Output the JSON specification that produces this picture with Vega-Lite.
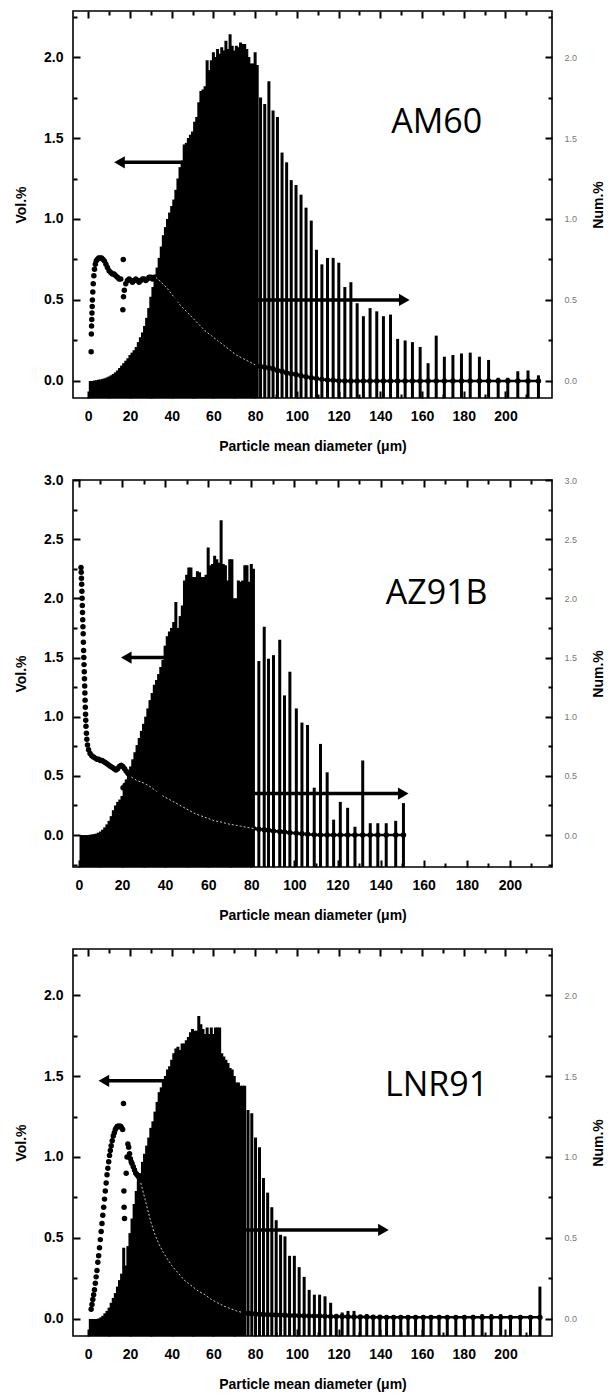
{
"$schema": "https://vega.github.io/schema/vega-lite/v6.json",
"autosize": {"type": "pad"},
"padding": {"left": 13, "top": 9, "right": 0, "bottom": 0},
"background": "white",
"config": {
  "view": {"stroke": "black", "strokeWidth": 1.6},
  "axis": {"domain": false, "grid": false, "ticks": true, "tickColor": "black", "tickOpacity": 1, "tickWidth": 2, "labelFont": "Liberation Sans", "labelFontWeight": "bold", "labelFontSize": 14, "labelColor": "black", "titleFont": "Liberation Sans", "titleFontWeight": "bold", "titleFontSize": 14, "titleColor": "black", "labelFlush": false, "labelOverlap": false}
},
"datasets": {
"vol": [
{"s":"AM60","d":1,"v":0},{"s":"AM60","d":2,"v":0},{"s":"AM60","d":3,"v":0.003},{"s":"AM60","d":4,"v":0.005},{"s":"AM60","d":5,"v":0.008},{"s":"AM60","d":6,"v":0.01},{"s":"AM60","d":7,"v":0.013},{"s":"AM60","d":8,"v":0.017},{"s":"AM60","d":9,"v":0.022},{"s":"AM60","d":10,"v":0.028},
{"s":"AM60","d":11,"v":0.035},{"s":"AM60","d":12,"v":0.043},{"s":"AM60","d":13,"v":0.053},{"s":"AM60","d":14,"v":0.065},{"s":"AM60","d":15,"v":0.08},{"s":"AM60","d":16,"v":0.095},{"s":"AM60","d":17,"v":0.11},{"s":"AM60","d":18,"v":0.125},{"s":"AM60","d":19,"v":0.14},{"s":"AM60","d":20,"v":0.16},
{"s":"AM60","d":21,"v":0.175},{"s":"AM60","d":22,"v":0.19},{"s":"AM60","d":23,"v":0.21},{"s":"AM60","d":24,"v":0.24},{"s":"AM60","d":25,"v":0.27},{"s":"AM60","d":26,"v":0.3},{"s":"AM60","d":27,"v":0.34},{"s":"AM60","d":28,"v":0.39},{"s":"AM60","d":29,"v":0.45},{"s":"AM60","d":30,"v":0.52},
{"s":"AM60","d":31,"v":0.58},{"s":"AM60","d":32,"v":0.64},{"s":"AM60","d":33,"v":0.7},{"s":"AM60","d":34,"v":0.76},{"s":"AM60","d":35,"v":0.83},{"s":"AM60","d":36,"v":0.9},{"s":"AM60","d":37,"v":0.95},{"s":"AM60","d":38,"v":1.0},{"s":"AM60","d":39,"v":1.04},{"s":"AM60","d":40,"v":1.08},
{"s":"AM60","d":41,"v":1.12},{"s":"AM60","d":42,"v":1.18},{"s":"AM60","d":43,"v":1.25},{"s":"AM60","d":44,"v":1.32},{"s":"AM60","d":45,"v":1.36},{"s":"AM60","d":46,"v":1.46},{"s":"AM60","d":47,"v":1.47},{"s":"AM60","d":48,"v":1.5},{"s":"AM60","d":49,"v":1.52},{"s":"AM60","d":50,"v":1.54},
{"s":"AM60","d":51,"v":1.6},{"s":"AM60","d":52,"v":1.63},{"s":"AM60","d":53,"v":1.72},{"s":"AM60","d":54,"v":1.79},{"s":"AM60","d":55,"v":1.8},{"s":"AM60","d":56,"v":1.82},{"s":"AM60","d":57,"v":1.98},{"s":"AM60","d":58,"v":1.92},{"s":"AM60","d":59,"v":1.98},{"s":"AM60","d":60,"v":2.03},
{"s":"AM60","d":61,"v":2.0},{"s":"AM60","d":62,"v":2.05},{"s":"AM60","d":63,"v":2.02},{"s":"AM60","d":64,"v":2.06},{"s":"AM60","d":65,"v":2.04},{"s":"AM60","d":66,"v":2.1},{"s":"AM60","d":67,"v":2.05},{"s":"AM60","d":68,"v":2.14},{"s":"AM60","d":69,"v":2.07},{"s":"AM60","d":70,"v":2.04},
{"s":"AM60","d":71,"v":2.07},{"s":"AM60","d":72,"v":2.06},{"s":"AM60","d":73,"v":2.09},{"s":"AM60","d":74,"v":2.08},{"s":"AM60","d":75,"v":2.08},{"s":"AM60","d":76,"v":2.05},{"s":"AM60","d":77,"v":2.0},{"s":"AM60","d":78,"v":1.96},{"s":"AM60","d":79,"v":1.96},{"s":"AM60","d":80,"v":2.03},{"s":"AM60","d":81,"v":1.95},
{"s":"AM60","d":82.6,"v":1.75},{"s":"AM60","d":84.6,"v":1.71},{"s":"AM60","d":86.6,"v":1.85},{"s":"AM60","d":88.6,"v":1.67},{"s":"AM60","d":90.7,"v":1.63},{"s":"AM60","d":92.9,"v":1.41},{"s":"AM60","d":95.1,"v":1.35},{"s":"AM60","d":97.3,"v":1.24},{"s":"AM60","d":99.6,"v":1.21},{"s":"AM60","d":102,"v":1.15},
{"s":"AM60","d":104.4,"v":1.07},{"s":"AM60","d":106.9,"v":0.99},{"s":"AM60","d":109.4,"v":0.81},{"s":"AM60","d":112,"v":0.72},{"s":"AM60","d":114.7,"v":0.76},{"s":"AM60","d":117.4,"v":0.76},{"s":"AM60","d":120.1,"v":0.73},{"s":"AM60","d":123,"v":0.58},{"s":"AM60","d":125.9,"v":0.61},{"s":"AM60","d":128.9,"v":0.48},
{"s":"AM60","d":131.9,"v":0.4},{"s":"AM60","d":135.1,"v":0.45},{"s":"AM60","d":138.3,"v":0.43},{"s":"AM60","d":141.5,"v":0.4},{"s":"AM60","d":144.9,"v":0.41},{"s":"AM60","d":148.3,"v":0.26},{"s":"AM60","d":151.9,"v":0.25},{"s":"AM60","d":155.4,"v":0.24},{"s":"AM60","d":159.1,"v":0.21},{"s":"AM60","d":162.9,"v":0.11},
{"s":"AM60","d":166.8,"v":0.28},{"s":"AM60","d":170.7,"v":0.15},{"s":"AM60","d":174.8,"v":0.16},{"s":"AM60","d":178.9,"v":0.17},{"s":"AM60","d":183.1,"v":0.175},{"s":"AM60","d":187.5,"v":0.15},{"s":"AM60","d":191.9,"v":0.13},{"s":"AM60","d":196.5,"v":0.02},{"s":"AM60","d":201.1,"v":0.02},{"s":"AM60","d":205.9,"v":0.06},
{"s":"AM60","d":210.8,"v":0.065},{"s":"AM60","d":215.8,"v":0.035},

{"s":"AZ91B","d":1,"v":0},{"s":"AZ91B","d":2,"v":0},{"s":"AZ91B","d":3,"v":0},{"s":"AZ91B","d":4,"v":0},{"s":"AZ91B","d":5,"v":0.002},{"s":"AZ91B","d":6,"v":0.005},{"s":"AZ91B","d":7,"v":0.008},{"s":"AZ91B","d":8,"v":0.012},{"s":"AZ91B","d":9,"v":0.02},{"s":"AZ91B","d":10,"v":0.03},
{"s":"AZ91B","d":11,"v":0.045},{"s":"AZ91B","d":12,"v":0.065},{"s":"AZ91B","d":13,"v":0.09},{"s":"AZ91B","d":14,"v":0.12},{"s":"AZ91B","d":15,"v":0.16},{"s":"AZ91B","d":16,"v":0.21},{"s":"AZ91B","d":17,"v":0.25},{"s":"AZ91B","d":18,"v":0.28},{"s":"AZ91B","d":19,"v":0.3},{"s":"AZ91B","d":20,"v":0.33},
{"s":"AZ91B","d":21,"v":0.4},{"s":"AZ91B","d":22,"v":0.47},{"s":"AZ91B","d":23,"v":0.53},{"s":"AZ91B","d":24,"v":0.58},{"s":"AZ91B","d":25,"v":0.64},{"s":"AZ91B","d":26,"v":0.7},{"s":"AZ91B","d":27,"v":0.76},{"s":"AZ91B","d":28,"v":0.82},{"s":"AZ91B","d":29,"v":0.88},{"s":"AZ91B","d":30,"v":0.94},
{"s":"AZ91B","d":31,"v":1.0},{"s":"AZ91B","d":32,"v":1.07},{"s":"AZ91B","d":33,"v":1.14},{"s":"AZ91B","d":34,"v":1.2},{"s":"AZ91B","d":35,"v":1.27},{"s":"AZ91B","d":36,"v":1.31},{"s":"AZ91B","d":37,"v":1.36},{"s":"AZ91B","d":38,"v":1.42},{"s":"AZ91B","d":39,"v":1.48},{"s":"AZ91B","d":40,"v":1.6},
{"s":"AZ91B","d":41,"v":1.68},{"s":"AZ91B","d":42,"v":1.72},{"s":"AZ91B","d":43,"v":1.75},{"s":"AZ91B","d":44,"v":1.8},{"s":"AZ91B","d":45,"v":1.97},{"s":"AZ91B","d":46,"v":1.75},{"s":"AZ91B","d":47,"v":1.85},{"s":"AZ91B","d":48,"v":1.94},{"s":"AZ91B","d":49,"v":2.15},{"s":"AZ91B","d":50,"v":2.2},
{"s":"AZ91B","d":51,"v":2.26},{"s":"AZ91B","d":52,"v":2.26},{"s":"AZ91B","d":53,"v":2.18},{"s":"AZ91B","d":54,"v":2.18},{"s":"AZ91B","d":55,"v":2.23},{"s":"AZ91B","d":56,"v":2.22},{"s":"AZ91B","d":57,"v":2.18},{"s":"AZ91B","d":58,"v":2.18},{"s":"AZ91B","d":59,"v":2.2},{"s":"AZ91B","d":60,"v":2.43},
{"s":"AZ91B","d":61,"v":2.28},{"s":"AZ91B","d":62,"v":2.29},{"s":"AZ91B","d":63,"v":2.36},{"s":"AZ91B","d":64,"v":2.33},{"s":"AZ91B","d":65,"v":2.3},{"s":"AZ91B","d":66,"v":2.66},{"s":"AZ91B","d":67,"v":2.29},{"s":"AZ91B","d":68,"v":2.28},{"s":"AZ91B","d":69,"v":2.15},{"s":"AZ91B","d":70,"v":2.33},
{"s":"AZ91B","d":71,"v":2.33},{"s":"AZ91B","d":72,"v":2.0},{"s":"AZ91B","d":73,"v":2.0},{"s":"AZ91B","d":74,"v":2.15},{"s":"AZ91B","d":75,"v":2.14},{"s":"AZ91B","d":76,"v":2.15},{"s":"AZ91B","d":77,"v":2.28},{"s":"AZ91B","d":78,"v":2.28},{"s":"AZ91B","d":79,"v":2.14},{"s":"AZ91B","d":80,"v":2.29},{"s":"AZ91B","d":81,"v":2.25},
{"s":"AZ91B","d":83.5,"v":1.47},{"s":"AZ91B","d":86,"v":1.76},{"s":"AZ91B","d":88,"v":1.49},{"s":"AZ91B","d":90.3,"v":1.52},{"s":"AZ91B","d":93.2,"v":1.65},{"s":"AZ91B","d":95.4,"v":1.18},{"s":"AZ91B","d":97.9,"v":1.38},{"s":"AZ91B","d":100.9,"v":1.07},{"s":"AZ91B","d":103.5,"v":0.95},{"s":"AZ91B","d":106.1,"v":0.93},
{"s":"AZ91B","d":109.2,"v":0.4},{"s":"AZ91B","d":112.1,"v":0.77},{"s":"AZ91B","d":115.2,"v":0.53},{"s":"AZ91B","d":118.2,"v":0.13},{"s":"AZ91B","d":121.3,"v":0.28},{"s":"AZ91B","d":124.7,"v":0.23},{"s":"AZ91B","d":128.1,"v":0.07},{"s":"AZ91B","d":131.7,"v":0.63},{"s":"AZ91B","d":135.2,"v":0.1},{"s":"AZ91B","d":138.7,"v":0.1},
{"s":"AZ91B","d":142.6,"v":0.1},{"s":"AZ91B","d":147,"v":0.12},{"s":"AZ91B","d":150.6,"v":0.27},

{"s":"LNR91","d":1,"v":0},{"s":"LNR91","d":2,"v":0},{"s":"LNR91","d":3,"v":0},{"s":"LNR91","d":4,"v":0},{"s":"LNR91","d":5,"v":0.003},{"s":"LNR91","d":6,"v":0.01},{"s":"LNR91","d":7,"v":0.02},{"s":"LNR91","d":8,"v":0.035},{"s":"LNR91","d":9,"v":0.05},{"s":"LNR91","d":10,"v":0.07},
{"s":"LNR91","d":11,"v":0.1},{"s":"LNR91","d":12,"v":0.13},{"s":"LNR91","d":13,"v":0.16},{"s":"LNR91","d":14,"v":0.2},{"s":"LNR91","d":15,"v":0.24},{"s":"LNR91","d":16,"v":0.28},{"s":"LNR91","d":17,"v":0.44},{"s":"LNR91","d":18,"v":0.33},{"s":"LNR91","d":19,"v":0.45},{"s":"LNR91","d":20,"v":0.53},
{"s":"LNR91","d":21,"v":0.62},{"s":"LNR91","d":22,"v":0.71},{"s":"LNR91","d":23,"v":0.79},{"s":"LNR91","d":24,"v":0.85},{"s":"LNR91","d":25,"v":0.9},{"s":"LNR91","d":26,"v":0.97},{"s":"LNR91","d":27,"v":1.02},{"s":"LNR91","d":28,"v":1.07},{"s":"LNR91","d":29,"v":1.12},{"s":"LNR91","d":30,"v":1.18},
{"s":"LNR91","d":31,"v":1.22},{"s":"LNR91","d":32,"v":1.28},{"s":"LNR91","d":33,"v":1.34},{"s":"LNR91","d":34,"v":1.4},{"s":"LNR91","d":35,"v":1.43},{"s":"LNR91","d":36,"v":1.47},{"s":"LNR91","d":37,"v":1.5},{"s":"LNR91","d":38,"v":1.54},{"s":"LNR91","d":39,"v":1.56},{"s":"LNR91","d":40,"v":1.6},
{"s":"LNR91","d":41,"v":1.64},{"s":"LNR91","d":42,"v":1.67},{"s":"LNR91","d":43,"v":1.68},{"s":"LNR91","d":44,"v":1.66},{"s":"LNR91","d":45,"v":1.7},{"s":"LNR91","d":46,"v":1.7},{"s":"LNR91","d":47,"v":1.72},{"s":"LNR91","d":48,"v":1.74},{"s":"LNR91","d":49,"v":1.77},{"s":"LNR91","d":50,"v":1.79},
{"s":"LNR91","d":51,"v":1.78},{"s":"LNR91","d":52,"v":1.78},{"s":"LNR91","d":53,"v":1.87},{"s":"LNR91","d":54,"v":1.82},{"s":"LNR91","d":55,"v":1.79},{"s":"LNR91","d":56,"v":1.76},{"s":"LNR91","d":57,"v":1.8},{"s":"LNR91","d":58,"v":1.76},{"s":"LNR91","d":59,"v":1.8},{"s":"LNR91","d":60,"v":1.76},
{"s":"LNR91","d":61,"v":1.8},{"s":"LNR91","d":62,"v":1.8},{"s":"LNR91","d":63,"v":1.8},{"s":"LNR91","d":64,"v":1.64},{"s":"LNR91","d":65,"v":1.62},{"s":"LNR91","d":66,"v":1.6},{"s":"LNR91","d":67,"v":1.58},{"s":"LNR91","d":68,"v":1.55},{"s":"LNR91","d":69,"v":1.54},{"s":"LNR91","d":70,"v":1.5},
{"s":"LNR91","d":71,"v":1.46},{"s":"LNR91","d":72,"v":1.46},{"s":"LNR91","d":73,"v":1.44},{"s":"LNR91","d":74,"v":1.44},{"s":"LNR91","d":75,"v":1.44},
{"s":"LNR91","d":76.6,"v":1.29},{"s":"LNR91","d":78.4,"v":1.27},{"s":"LNR91","d":80.2,"v":1.12},{"s":"LNR91","d":82.1,"v":1.06},{"s":"LNR91","d":84,"v":0.87},{"s":"LNR91","d":86,"v":0.78},{"s":"LNR91","d":88,"v":0.69},{"s":"LNR91","d":90.1,"v":0.61},{"s":"LNR91","d":92.2,"v":0.52},{"s":"LNR91","d":94.3,"v":0.51},
{"s":"LNR91","d":96.5,"v":0.39},{"s":"LNR91","d":98.8,"v":0.39},{"s":"LNR91","d":101.1,"v":0.32},{"s":"LNR91","d":103.5,"v":0.26},{"s":"LNR91","d":105.9,"v":0.18},{"s":"LNR91","d":108.4,"v":0.15},{"s":"LNR91","d":110.9,"v":0.15},{"s":"LNR91","d":113.5,"v":0.14},{"s":"LNR91","d":116.2,"v":0.1},{"s":"LNR91","d":118.9,"v":0.02},
{"s":"LNR91","d":121.7,"v":0.04},{"s":"LNR91","d":124.5,"v":0.05},{"s":"LNR91","d":127.4,"v":0.05},{"s":"LNR91","d":130.4,"v":0.02},{"s":"LNR91","d":133.5,"v":0.03},{"s":"LNR91","d":136.6,"v":0.02},{"s":"LNR91","d":139.8,"v":0.02},{"s":"LNR91","d":143,"v":0.02},{"s":"LNR91","d":146.4,"v":0.02},{"s":"LNR91","d":149.8,"v":0.02},
{"s":"LNR91","d":153.3,"v":0.02},{"s":"LNR91","d":156.9,"v":0.02},{"s":"LNR91","d":160.6,"v":0.02},{"s":"LNR91","d":164.3,"v":0.02},{"s":"LNR91","d":168.2,"v":0.02},{"s":"LNR91","d":172.1,"v":0.02},{"s":"LNR91","d":176.2,"v":0.02},{"s":"LNR91","d":180.3,"v":0.02},{"s":"LNR91","d":184.5,"v":0.025},{"s":"LNR91","d":188.8,"v":0.03},
{"s":"LNR91","d":193.2,"v":0.03},{"s":"LNR91","d":197.7,"v":0.03},{"s":"LNR91","d":202.4,"v":0.02},{"s":"LNR91","d":207.1,"v":0.02},{"s":"LNR91","d":212,"v":0.02},{"s":"LNR91","d":216.5,"v":0.2}
],
"num": [
{"s":"AM60","d":1.4,"n":0.18},{"s":"AM60","d":1.5,"n":0.29},{"s":"AM60","d":1.6,"n":0.34},{"s":"AM60","d":1.7,"n":0.38},{"s":"AM60","d":1.8,"n":0.42},{"s":"AM60","d":1.9,"n":0.46},{"s":"AM60","d":2.0,"n":0.5},{"s":"AM60","d":2.2,"n":0.55},{"s":"AM60","d":2.4,"n":0.6},{"s":"AM60","d":2.7,"n":0.65},
{"s":"AM60","d":3.0,"n":0.69},{"s":"AM60","d":3.4,"n":0.72},{"s":"AM60","d":3.8,"n":0.74},{"s":"AM60","d":4.3,"n":0.75},{"s":"AM60","d":5,"n":0.76},{"s":"AM60","d":5.7,"n":0.76},{"s":"AM60","d":6.4,"n":0.76},{"s":"AM60","d":7.1,"n":0.75},{"s":"AM60","d":7.8,"n":0.74},{"s":"AM60","d":8.5,"n":0.72},
{"s":"AM60","d":9.2,"n":0.7},{"s":"AM60","d":10,"n":0.68},{"s":"AM60","d":10.8,"n":0.67},{"s":"AM60","d":11.6,"n":0.66},{"s":"AM60","d":12.4,"n":0.66},{"s":"AM60","d":13.2,"n":0.65},{"s":"AM60","d":14,"n":0.64},{"s":"AM60","d":14.8,"n":0.63},{"s":"AM60","d":15.6,"n":0.63},{"s":"AM60","d":16.8,"n":0.75},
{"s":"AM60","d":16.6,"n":0.44},{"s":"AM60","d":16.9,"n":0.52},{"s":"AM60","d":17.3,"n":0.56},{"s":"AM60","d":18,"n":0.6},{"s":"AM60","d":18.8,"n":0.62},{"s":"AM60","d":19.6,"n":0.63},{"s":"AM60","d":20.4,"n":0.62},{"s":"AM60","d":21.2,"n":0.61},{"s":"AM60","d":22,"n":0.62},{"s":"AM60","d":22.8,"n":0.63},
{"s":"AM60","d":23.6,"n":0.62},{"s":"AM60","d":24.4,"n":0.61},{"s":"AM60","d":25.2,"n":0.62},{"s":"AM60","d":26,"n":0.63},{"s":"AM60","d":26.8,"n":0.63},{"s":"AM60","d":27.6,"n":0.62},{"s":"AM60","d":28.4,"n":0.63},{"s":"AM60","d":29.2,"n":0.64},{"s":"AM60","d":30,"n":0.64},{"s":"AM60","d":30.8,"n":0.63},
{"s":"AM60","d":31.6,"n":0.64},{"s":"AM60","d":32.4,"n":0.64},{"s":"AM60","d":33.2,"n":0.63},{"s":"AM60","d":35,"n":0.61},{"s":"AM60","d":38,"n":0.57},{"s":"AM60","d":41,"n":0.52},{"s":"AM60","d":44,"n":0.47},{"s":"AM60","d":47,"n":0.43},{"s":"AM60","d":50,"n":0.39},{"s":"AM60","d":53,"n":0.35},
{"s":"AM60","d":56,"n":0.31},{"s":"AM60","d":59,"n":0.28},{"s":"AM60","d":62,"n":0.25},{"s":"AM60","d":65,"n":0.22},{"s":"AM60","d":68,"n":0.19},{"s":"AM60","d":71,"n":0.16},{"s":"AM60","d":74,"n":0.14},{"s":"AM60","d":77,"n":0.12},{"s":"AM60","d":80,"n":0.1},
{"s":"AM60","d":82.6,"n":0.09},{"s":"AM60","d":84.6,"n":0.085},{"s":"AM60","d":86.6,"n":0.08},{"s":"AM60","d":88.6,"n":0.075},{"s":"AM60","d":90.7,"n":0.065},{"s":"AM60","d":92.9,"n":0.06},{"s":"AM60","d":95.1,"n":0.05},{"s":"AM60","d":97.3,"n":0.045},{"s":"AM60","d":99.6,"n":0.04},{"s":"AM60","d":102,"n":0.032},
{"s":"AM60","d":104.4,"n":0.026},{"s":"AM60","d":106.9,"n":0.02},{"s":"AM60","d":109.4,"n":0.015},{"s":"AM60","d":112,"n":0.01},{"s":"AM60","d":114.7,"n":0.006},{"s":"AM60","d":117.4,"n":0.004},{"s":"AM60","d":120.1,"n":0.002},{"s":"AM60","d":123,"n":0},{"s":"AM60","d":125.9,"n":0},{"s":"AM60","d":128.9,"n":0},
{"s":"AM60","d":131.9,"n":0},{"s":"AM60","d":135.1,"n":0},{"s":"AM60","d":138.3,"n":0},{"s":"AM60","d":141.5,"n":0},{"s":"AM60","d":144.9,"n":0},{"s":"AM60","d":148.3,"n":0},{"s":"AM60","d":151.9,"n":0},{"s":"AM60","d":155.4,"n":0},{"s":"AM60","d":159.1,"n":0},{"s":"AM60","d":162.9,"n":0},
{"s":"AM60","d":166.8,"n":0},{"s":"AM60","d":170.7,"n":0},{"s":"AM60","d":174.8,"n":0},{"s":"AM60","d":178.9,"n":0},{"s":"AM60","d":183.1,"n":0},{"s":"AM60","d":187.5,"n":0},{"s":"AM60","d":191.9,"n":0},{"s":"AM60","d":196.5,"n":0},{"s":"AM60","d":201.1,"n":0},{"s":"AM60","d":205.9,"n":0},
{"s":"AM60","d":210.8,"n":0},{"s":"AM60","d":215.8,"n":0},

{"s":"AZ91B","d":1.0,"n":2.26},{"s":"AZ91B","d":1.1,"n":2.22},{"s":"AZ91B","d":1.2,"n":2.17},{"s":"AZ91B","d":1.3,"n":2.12},{"s":"AZ91B","d":1.4,"n":2.06},{"s":"AZ91B","d":1.5,"n":2.0},{"s":"AZ91B","d":1.6,"n":1.94},{"s":"AZ91B","d":1.7,"n":1.88},{"s":"AZ91B","d":1.8,"n":1.82},{"s":"AZ91B","d":1.9,"n":1.76},
{"s":"AZ91B","d":2.0,"n":1.7},{"s":"AZ91B","d":2.1,"n":1.63},{"s":"AZ91B","d":2.2,"n":1.56},{"s":"AZ91B","d":2.3,"n":1.5},{"s":"AZ91B","d":2.4,"n":1.44},{"s":"AZ91B","d":2.5,"n":1.38},{"s":"AZ91B","d":2.6,"n":1.32},{"s":"AZ91B","d":2.7,"n":1.26},{"s":"AZ91B","d":2.8,"n":1.2},{"s":"AZ91B","d":2.9,"n":1.14},
{"s":"AZ91B","d":3.0,"n":1.08},{"s":"AZ91B","d":3.1,"n":1.02},{"s":"AZ91B","d":3.2,"n":0.97},{"s":"AZ91B","d":3.3,"n":0.92},{"s":"AZ91B","d":3.5,"n":0.86},{"s":"AZ91B","d":3.7,"n":0.81},{"s":"AZ91B","d":4.0,"n":0.76},{"s":"AZ91B","d":4.5,"n":0.72},{"s":"AZ91B","d":5.2,"n":0.69},{"s":"AZ91B","d":6,"n":0.67},
{"s":"AZ91B","d":6.8,"n":0.66},{"s":"AZ91B","d":7.6,"n":0.65},{"s":"AZ91B","d":8.4,"n":0.64},{"s":"AZ91B","d":9.2,"n":0.64},{"s":"AZ91B","d":10,"n":0.63},{"s":"AZ91B","d":10.8,"n":0.63},{"s":"AZ91B","d":11.6,"n":0.62},{"s":"AZ91B","d":12.4,"n":0.61},{"s":"AZ91B","d":13.2,"n":0.6},{"s":"AZ91B","d":14,"n":0.59},
{"s":"AZ91B","d":14.8,"n":0.58},{"s":"AZ91B","d":15.6,"n":0.57},{"s":"AZ91B","d":16.4,"n":0.56},{"s":"AZ91B","d":17.2,"n":0.55},{"s":"AZ91B","d":18,"n":0.56},{"s":"AZ91B","d":18.8,"n":0.58},{"s":"AZ91B","d":19.6,"n":0.59},{"s":"AZ91B","d":20.4,"n":0.58},{"s":"AZ91B","d":21.2,"n":0.56},{"s":"AZ91B","d":22,"n":0.54},
{"s":"AZ91B","d":22.8,"n":0.52},{"s":"AZ91B","d":23.6,"n":0.51},{"s":"AZ91B","d":24.4,"n":0.49},{"s":"AZ91B","d":20.5,"n":0.4},{"s":"AZ91B","d":21.5,"n":0.42},{"s":"AZ91B","d":25.2,"n":0.48},{"s":"AZ91B","d":27,"n":0.46},{"s":"AZ91B","d":30,"n":0.44},{"s":"AZ91B","d":33,"n":0.41},{"s":"AZ91B","d":36,"n":0.37},
{"s":"AZ91B","d":39,"n":0.33},{"s":"AZ91B","d":42,"n":0.3},{"s":"AZ91B","d":45,"n":0.27},{"s":"AZ91B","d":48,"n":0.24},{"s":"AZ91B","d":51,"n":0.21},{"s":"AZ91B","d":54,"n":0.18},{"s":"AZ91B","d":57,"n":0.16},{"s":"AZ91B","d":60,"n":0.14},{"s":"AZ91B","d":63,"n":0.12},{"s":"AZ91B","d":66,"n":0.11},
{"s":"AZ91B","d":69,"n":0.095},{"s":"AZ91B","d":72,"n":0.085},{"s":"AZ91B","d":75,"n":0.075},{"s":"AZ91B","d":78,"n":0.065},{"s":"AZ91B","d":81,"n":0.055},
{"s":"AZ91B","d":83.5,"n":0.05},{"s":"AZ91B","d":86,"n":0.045},{"s":"AZ91B","d":88,"n":0.04},{"s":"AZ91B","d":90.3,"n":0.035},{"s":"AZ91B","d":93.2,"n":0.03},{"s":"AZ91B","d":95.4,"n":0.025},{"s":"AZ91B","d":97.9,"n":0.02},{"s":"AZ91B","d":100.9,"n":0.015},{"s":"AZ91B","d":103.5,"n":0.01},{"s":"AZ91B","d":106.1,"n":0.006},
{"s":"AZ91B","d":109.2,"n":0.003},{"s":"AZ91B","d":112.1,"n":0},{"s":"AZ91B","d":115.2,"n":0},{"s":"AZ91B","d":118.2,"n":0},{"s":"AZ91B","d":121.3,"n":0},{"s":"AZ91B","d":124.7,"n":0},{"s":"AZ91B","d":128.1,"n":0},{"s":"AZ91B","d":131.7,"n":0},{"s":"AZ91B","d":135.2,"n":0},{"s":"AZ91B","d":138.7,"n":0},
{"s":"AZ91B","d":142.6,"n":0},{"s":"AZ91B","d":147,"n":0},{"s":"AZ91B","d":150.6,"n":0},

{"s":"LNR91","d":1.4,"n":0.06},{"s":"LNR91","d":1.8,"n":0.09},{"s":"LNR91","d":2.2,"n":0.12},{"s":"LNR91","d":2.6,"n":0.15},{"s":"LNR91","d":3.0,"n":0.18},{"s":"LNR91","d":3.4,"n":0.22},{"s":"LNR91","d":3.8,"n":0.26},{"s":"LNR91","d":4.2,"n":0.3},{"s":"LNR91","d":4.6,"n":0.35},{"s":"LNR91","d":5.0,"n":0.39},
{"s":"LNR91","d":5.4,"n":0.44},{"s":"LNR91","d":5.8,"n":0.49},{"s":"LNR91","d":6.2,"n":0.54},{"s":"LNR91","d":6.6,"n":0.59},{"s":"LNR91","d":7.0,"n":0.64},{"s":"LNR91","d":7.4,"n":0.69},{"s":"LNR91","d":7.8,"n":0.74},{"s":"LNR91","d":8.2,"n":0.79},{"s":"LNR91","d":8.6,"n":0.84},{"s":"LNR91","d":9.0,"n":0.89},
{"s":"LNR91","d":9.4,"n":0.93},{"s":"LNR91","d":9.8,"n":0.97},{"s":"LNR91","d":10.2,"n":1.01},{"s":"LNR91","d":10.6,"n":1.04},{"s":"LNR91","d":11.0,"n":1.07},{"s":"LNR91","d":11.5,"n":1.1},{"s":"LNR91","d":12.0,"n":1.13},{"s":"LNR91","d":12.5,"n":1.15},{"s":"LNR91","d":13.0,"n":1.17},{"s":"LNR91","d":13.5,"n":1.18},
{"s":"LNR91","d":14.0,"n":1.19},{"s":"LNR91","d":14.5,"n":1.19},{"s":"LNR91","d":15.0,"n":1.19},{"s":"LNR91","d":15.5,"n":1.19},{"s":"LNR91","d":16.0,"n":1.18},{"s":"LNR91","d":16.5,"n":1.17},{"s":"LNR91","d":16.9,"n":1.33},{"s":"LNR91","d":17.1,"n":0.79},{"s":"LNR91","d":17.2,"n":0.69},{"s":"LNR91","d":17.4,"n":0.62},
{"s":"LNR91","d":18.2,"n":0.9},{"s":"LNR91","d":18.6,"n":1.0},{"s":"LNR91","d":19.0,"n":1.08},{"s":"LNR91","d":19.4,"n":1.06},{"s":"LNR91","d":19.8,"n":1.02},{"s":"LNR91","d":20.2,"n":0.99},{"s":"LNR91","d":20.6,"n":0.97},{"s":"LNR91","d":21.0,"n":0.96},{"s":"LNR91","d":21.6,"n":0.94},{"s":"LNR91","d":22.2,"n":0.92},
{"s":"LNR91","d":22.8,"n":0.9},{"s":"LNR91","d":23.4,"n":0.89},{"s":"LNR91","d":24.0,"n":0.88},{"s":"LNR91","d":24.6,"n":0.86},{"s":"LNR91","d":25.2,"n":0.84},{"s":"LNR91","d":26,"n":0.8},{"s":"LNR91","d":28,"n":0.7},{"s":"LNR91","d":30,"n":0.6},{"s":"LNR91","d":32,"n":0.52},{"s":"LNR91","d":34,"n":0.46},
{"s":"LNR91","d":36,"n":0.41},{"s":"LNR91","d":38,"n":0.37},{"s":"LNR91","d":40,"n":0.33},{"s":"LNR91","d":42,"n":0.3},{"s":"LNR91","d":44,"n":0.27},{"s":"LNR91","d":46,"n":0.24},{"s":"LNR91","d":48,"n":0.22},{"s":"LNR91","d":50,"n":0.2},{"s":"LNR91","d":53,"n":0.17},{"s":"LNR91","d":56,"n":0.15},
{"s":"LNR91","d":59,"n":0.12},{"s":"LNR91","d":62,"n":0.1},{"s":"LNR91","d":65,"n":0.08},{"s":"LNR91","d":68,"n":0.065},{"s":"LNR91","d":71,"n":0.05},{"s":"LNR91","d":74,"n":0.04},
{"s":"LNR91","d":76.6,"n":0.035},{"s":"LNR91","d":78.4,"n":0.033},{"s":"LNR91","d":80.2,"n":0.031},{"s":"LNR91","d":82.1,"n":0.03},{"s":"LNR91","d":84,"n":0.028},{"s":"LNR91","d":86,"n":0.027},{"s":"LNR91","d":88,"n":0.026},{"s":"LNR91","d":90.1,"n":0.025},{"s":"LNR91","d":92.2,"n":0.024},{"s":"LNR91","d":94.3,"n":0.023},
{"s":"LNR91","d":96.5,"n":0.022},{"s":"LNR91","d":98.8,"n":0.021},{"s":"LNR91","d":101.1,"n":0.02},{"s":"LNR91","d":103.5,"n":0.02},{"s":"LNR91","d":105.9,"n":0.019},{"s":"LNR91","d":108.4,"n":0.018},{"s":"LNR91","d":110.9,"n":0.018},{"s":"LNR91","d":113.5,"n":0.017},{"s":"LNR91","d":116.2,"n":0.016},{"s":"LNR91","d":118.9,"n":0.015},
{"s":"LNR91","d":121.7,"n":0.015},{"s":"LNR91","d":124.5,"n":0.014},{"s":"LNR91","d":127.4,"n":0.013},{"s":"LNR91","d":130.4,"n":0.012},{"s":"LNR91","d":133.5,"n":0.012},{"s":"LNR91","d":136.6,"n":0.011},{"s":"LNR91","d":139.8,"n":0.011},{"s":"LNR91","d":143,"n":0.01},{"s":"LNR91","d":146.4,"n":0.01},{"s":"LNR91","d":149.8,"n":0.01},
{"s":"LNR91","d":153.3,"n":0.01},{"s":"LNR91","d":156.9,"n":0.01},{"s":"LNR91","d":160.6,"n":0.01},{"s":"LNR91","d":164.3,"n":0.01},{"s":"LNR91","d":168.2,"n":0.01},{"s":"LNR91","d":172.1,"n":0.01},{"s":"LNR91","d":176.2,"n":0.01},{"s":"LNR91","d":180.3,"n":0.01},{"s":"LNR91","d":184.5,"n":0.01},{"s":"LNR91","d":188.8,"n":0.01},
{"s":"LNR91","d":193.2,"n":0.01},{"s":"LNR91","d":197.7,"n":0.01},{"s":"LNR91","d":202.4,"n":0.01},{"s":"LNR91","d":207.1,"n":0.01},{"s":"LNR91","d":212,"n":0.01},{"s":"LNR91","d":216.5,"n":0.01}
],
"arrows": [
{"s":"AM60","x1":15,"x2":46,"y":1.35,"dir":"left"},
{"s":"AM60","x1":151.5,"x2":34,"y":0.5,"dir":"right"},
{"s":"AZ91B","x1":22,"x2":39.5,"y":1.5,"dir":"left"},
{"s":"AZ91B","x1":150.5,"x2":28,"y":0.35,"dir":"right"},
{"s":"LNR91","x1":7.5,"x2":38,"y":1.47,"dir":"left"},
{"s":"LNR91","x1":141.5,"x2":33,"y":0.55,"dir":"right"}
],
"labels": [
{"s":"AM60","x":167,"y":1.59,"t":"AM60"},
{"s":"AZ91B","x":166,"y":2.04,"t":"AZ91B"},
{"s":"LNR91","x":167,"y":1.44,"t":"LNR91"}
]
},
"spacing": 82,
"bounds": "flush",
"vconcat": [
{
 "width": 479, "height": 387,
 "layer": [
  {"data": {"name": "vol"}, "transform": [{"filter": "datum.s=='AM60'"}],
   "mark": {"type": "bar", "size": 3, "color": "black"},
   "encoding": {
    "x": {"field": "d", "type": "quantitative", "scale": {"domain": [-4.9, 219.9], "nice": false, "zero": false},
          "axis": {"orient": "bottom", "zindex": 2, "values": [0,20,40,60,80,100,120,140,160,180,200], "offset": -7, "tickSize": 7, "labelPadding": 11, "title": "Particle mean diameter (μm)", "titlePadding": 15, "minExtent": 33, "maxExtent": 33}},
    "y": {"field": "v", "type": "quantitative", "scale": {"domain": [-0.105, 2.284], "nice": false, "zero": false},
          "axis": {"orient": "left", "zindex": 2, "values": [0,0.5,1,1.5,2], "format": ".1f", "offset": -7, "tickSize": 7, "labelPadding": 10, "title": "Vol.%", "titlePadding": 11, "minExtent": 41, "maxExtent": 41}},
    "y2": {"datum": -0.105}}},
  {"data": {"name": "num"}, "transform": [{"filter": "datum.s=='AM60'"}],
   "mark": {"type": "point", "filled": true, "size": 30, "color": "black", "opacity": 1},
   "encoding": {
    "x": {"field": "d", "type": "quantitative", "scale": {"domain": [-4.9, 219.9], "nice": false, "zero": false},
          "axis": {"orient": "top", "zindex": 2, "values": [0,20,40,60,80,100,120,140,160,180,200], "offset": -7, "tickSize": 7, "labels": false, "title": null}},
    "y": {"field": "n", "type": "quantitative", "scale": {"domain": [-0.105, 2.284], "nice": false, "zero": false},
          "axis": {"orient": "right", "zindex": 2, "values": [0,0.5,1,1.5,2], "format": ".1f", "offset": -7, "tickSize": 7, "labelPadding": 12, "labelColor": "#777777", "labelFontSize": 9, "labelFontWeight": "normal", "title": "Num.%", "titleAngle": 270, "titleBaseline": "top", "titlePadding": 11, "minExtent": 35, "maxExtent": 35}}}},
  {"data": {"name": "num"}, "transform": [{"filter": "datum.s=='AM60' && datum.d>=80"}],
   "mark": {"type": "line", "color": "black", "strokeWidth": 2.5},
   "encoding": {
    "x": {"field": "d", "type": "quantitative", "scale": {"domain": [-4.9, 219.9], "nice": false, "zero": false},
          "axis": {"orient": "bottom", "zindex": 2, "values": [10,30,50,70,90,110,130,150,170,190,210], "offset": -4, "tickSize": 4, "labels": false, "title": null}},
    "y": {"field": "n", "type": "quantitative", "scale": {"domain": [-0.105, 2.284], "nice": false, "zero": false},
          "axis": {"orient": "left", "zindex": 2, "values": [0.25,0.75,1.25,1.75,2.25], "offset": -4, "tickSize": 4, "labels": false, "title": null}}}},
  {"data": {"name": "num"}, "transform": [{"filter": "datum.s=='AM60' && datum.d>=32 && datum.d<=82"}],
   "mark": {"type": "line", "color": "#c8c8c8", "strokeWidth": 1, "strokeDash": [2, 2]},
   "encoding": {
    "x": {"field": "d", "type": "quantitative", "scale": {"domain": [-4.9, 219.9], "nice": false, "zero": false},
          "axis": {"orient": "top", "zindex": 2, "values": [10,30,50,70,90,110,130,150,170,190,210], "offset": -4, "tickSize": 4, "labels": false, "title": null}},
    "y": {"field": "n", "type": "quantitative", "scale": {"domain": [-0.105, 2.284], "nice": false, "zero": false},
          "axis": {"orient": "right", "zindex": 2, "values": [0.25,0.75,1.25,1.75,2.25], "offset": -4, "tickSize": 4, "labels": false, "title": null}}}},
  {"data": {"name": "arrows"}, "transform": [{"filter": "datum.s=='AM60'"}],
   "mark": {"type": "rule", "color": "black", "strokeWidth": 3.5},
   "encoding": {
    "x": {"field": "x1", "type": "quantitative", "scale": {"domain": [-4.9, 219.9], "nice": false, "zero": false}, "axis": null},
    "x2": {"field": "x2"},
    "y": {"field": "y", "type": "quantitative", "scale": {"domain": [-0.105, 2.284], "nice": false, "zero": false}, "axis": null}}},
  {"data": {"name": "arrows"}, "transform": [{"filter": "datum.s=='AM60'"}],
   "mark": {"type": "point", "filled": true, "opacity": 1, "size": 150, "color": "black"},
   "encoding": {
    "x": {"field": "x1", "type": "quantitative", "scale": {"domain": [-4.9, 219.9], "nice": false, "zero": false}, "axis": null},
    "y": {"field": "y", "type": "quantitative", "scale": {"domain": [-0.105, 2.284], "nice": false, "zero": false}, "axis": null},
    "shape": {"field": "dir", "type": "nominal", "scale": {"domain": ["left", "right"], "range": ["triangle-left", "triangle-right"]}, "legend": null}}},
  {"data": {"name": "labels"}, "transform": [{"filter": "datum.s=='AM60'"}],
   "mark": {"type": "text", "font": "Open Sans", "fontSize": 34, "color": "black"},
   "encoding": {
    "x": {"field": "x", "type": "quantitative", "scale": {"domain": [-4.9, 219.9], "nice": false, "zero": false}, "axis": null},
    "y": {"field": "y", "type": "quantitative", "scale": {"domain": [-0.105, 2.284], "nice": false, "zero": false}, "axis": null},
    "text": {"field": "t"}}}
 ],
 "resolve": {"axis": {"x": "independent", "y": "independent"}}
},
{
 "width": 479, "height": 387,
 "layer": [
  {"data": {"name": "vol"}, "transform": [{"filter": "datum.s=='AZ91B'"}],
   "mark": {"type": "bar", "size": 3, "color": "black"},
   "encoding": {
    "x": {"field": "d", "type": "quantitative", "scale": {"domain": [-0.4, 217.2], "nice": false, "zero": false},
          "axis": {"orient": "bottom", "zindex": 2, "values": [0,20,40,60,80,100,120,140,160,180,200], "offset": -7, "tickSize": 7, "labelPadding": 11, "title": "Particle mean diameter (μm)", "titlePadding": 15, "minExtent": 33, "maxExtent": 33}},
    "y": {"field": "v", "type": "quantitative", "scale": {"domain": [-0.27, 3.0], "nice": false, "zero": false},
          "axis": {"orient": "left", "zindex": 2, "values": [0,0.5,1,1.5,2,2.5,3], "format": ".1f", "offset": -7, "tickSize": 7, "labelPadding": 10, "title": "Vol.%", "titlePadding": 11, "minExtent": 41, "maxExtent": 41}},
    "y2": {"datum": -0.27}}},
  {"data": {"name": "num"}, "transform": [{"filter": "datum.s=='AZ91B'"}],
   "mark": {"type": "point", "filled": true, "size": 30, "color": "black", "opacity": 1},
   "encoding": {
    "x": {"field": "d", "type": "quantitative", "scale": {"domain": [-0.4, 217.2], "nice": false, "zero": false},
          "axis": {"orient": "top", "zindex": 2, "values": [0,20,40,60,80,100,120,140,160,180,200], "offset": -7, "tickSize": 7, "labels": false, "title": null}},
    "y": {"field": "n", "type": "quantitative", "scale": {"domain": [-0.27, 3.0], "nice": false, "zero": false},
          "axis": {"orient": "right", "zindex": 2, "values": [0,0.5,1,1.5,2,2.5,3], "format": ".1f", "offset": -7, "tickSize": 7, "labelPadding": 12, "labelColor": "#777777", "labelFontSize": 9, "labelFontWeight": "normal", "title": "Num.%", "titleAngle": 270, "titleBaseline": "top", "titlePadding": 11, "minExtent": 35, "maxExtent": 35}}}},
  {"data": {"name": "num"}, "transform": [{"filter": "datum.s=='AZ91B' && datum.d>=81"}],
   "mark": {"type": "line", "color": "black", "strokeWidth": 2.5},
   "encoding": {
    "x": {"field": "d", "type": "quantitative", "scale": {"domain": [-0.4, 217.2], "nice": false, "zero": false},
          "axis": {"orient": "bottom", "zindex": 2, "values": [10,30,50,70,90,110,130,150,170,190,210], "offset": -4, "tickSize": 4, "labels": false, "title": null}},
    "y": {"field": "n", "type": "quantitative", "scale": {"domain": [-0.27, 3.0], "nice": false, "zero": false},
          "axis": {"orient": "left", "zindex": 2, "values": [-0.25,0.25,0.75,1.25,1.75,2.25,2.75], "offset": -4, "tickSize": 4, "labels": false, "title": null}}}},
  {"data": {"name": "num"}, "transform": [{"filter": "datum.s=='AZ91B' && datum.d>=24 && datum.d<=82"}],
   "mark": {"type": "line", "color": "#c8c8c8", "strokeWidth": 1, "strokeDash": [2, 2]},
   "encoding": {
    "x": {"field": "d", "type": "quantitative", "scale": {"domain": [-0.4, 217.2], "nice": false, "zero": false},
          "axis": {"orient": "top", "zindex": 2, "values": [10,30,50,70,90,110,130,150,170,190,210], "offset": -4, "tickSize": 4, "labels": false, "title": null}},
    "y": {"field": "n", "type": "quantitative", "scale": {"domain": [-0.27, 3.0], "nice": false, "zero": false},
          "axis": {"orient": "right", "zindex": 2, "values": [-0.25,0.25,0.75,1.25,1.75,2.25,2.75], "offset": -4, "tickSize": 4, "labels": false, "title": null}}}},
  {"data": {"name": "arrows"}, "transform": [{"filter": "datum.s=='AZ91B'"}],
   "mark": {"type": "rule", "color": "black", "strokeWidth": 3.5},
   "encoding": {
    "x": {"field": "x1", "type": "quantitative", "scale": {"domain": [-0.4, 217.2], "nice": false, "zero": false}, "axis": null},
    "x2": {"field": "x2"},
    "y": {"field": "y", "type": "quantitative", "scale": {"domain": [-0.27, 3.0], "nice": false, "zero": false}, "axis": null}}},
  {"data": {"name": "arrows"}, "transform": [{"filter": "datum.s=='AZ91B'"}],
   "mark": {"type": "point", "filled": true, "opacity": 1, "size": 150, "color": "black"},
   "encoding": {
    "x": {"field": "x1", "type": "quantitative", "scale": {"domain": [-0.4, 217.2], "nice": false, "zero": false}, "axis": null},
    "y": {"field": "y", "type": "quantitative", "scale": {"domain": [-0.27, 3.0], "nice": false, "zero": false}, "axis": null},
    "shape": {"field": "dir", "type": "nominal", "scale": {"domain": ["left", "right"], "range": ["triangle-left", "triangle-right"]}, "legend": null}}},
  {"data": {"name": "labels"}, "transform": [{"filter": "datum.s=='AZ91B'"}],
   "mark": {"type": "text", "font": "Open Sans", "fontSize": 34, "color": "black"},
   "encoding": {
    "x": {"field": "x", "type": "quantitative", "scale": {"domain": [-0.4, 217.2], "nice": false, "zero": false}, "axis": null},
    "y": {"field": "y", "type": "quantitative", "scale": {"domain": [-0.27, 3.0], "nice": false, "zero": false}, "axis": null},
    "text": {"field": "t"}}}
 ],
 "resolve": {"axis": {"x": "independent", "y": "independent"}}
},
{
 "width": 479, "height": 387,
 "layer": [
  {"data": {"name": "vol"}, "transform": [{"filter": "datum.s=='LNR91'"}],
   "mark": {"type": "bar", "size": 3, "color": "black"},
   "encoding": {
    "x": {"field": "d", "type": "quantitative", "scale": {"domain": [-4.9, 219.9], "nice": false, "zero": false},
          "axis": {"orient": "bottom", "zindex": 2, "values": [0,20,40,60,80,100,120,140,160,180,200], "offset": -7, "tickSize": 7, "labelPadding": 11, "title": "Particle mean diameter (μm)", "titlePadding": 15, "minExtent": 33, "maxExtent": 33}},
    "y": {"field": "v", "type": "quantitative", "scale": {"domain": [-0.105, 2.284], "nice": false, "zero": false},
          "axis": {"orient": "left", "zindex": 2, "values": [0,0.5,1,1.5,2], "format": ".1f", "offset": -7, "tickSize": 7, "labelPadding": 10, "title": "Vol.%", "titlePadding": 11, "minExtent": 41, "maxExtent": 41}},
    "y2": {"datum": -0.105}}},
  {"data": {"name": "num"}, "transform": [{"filter": "datum.s=='LNR91'"}],
   "mark": {"type": "point", "filled": true, "size": 30, "color": "black", "opacity": 1},
   "encoding": {
    "x": {"field": "d", "type": "quantitative", "scale": {"domain": [-4.9, 219.9], "nice": false, "zero": false},
          "axis": {"orient": "top", "zindex": 2, "values": [0,20,40,60,80,100,120,140,160,180,200], "offset": -7, "tickSize": 7, "labels": false, "title": null}},
    "y": {"field": "n", "type": "quantitative", "scale": {"domain": [-0.105, 2.284], "nice": false, "zero": false},
          "axis": {"orient": "right", "zindex": 2, "values": [0,0.5,1,1.5,2], "format": ".1f", "offset": -7, "tickSize": 7, "labelPadding": 12, "labelColor": "#777777", "labelFontSize": 9, "labelFontWeight": "normal", "title": "Num.%", "titleAngle": 270, "titleBaseline": "top", "titlePadding": 11, "minExtent": 35, "maxExtent": 35}}}},
  {"data": {"name": "num"}, "transform": [{"filter": "datum.s=='LNR91' && datum.d>=74"}],
   "mark": {"type": "line", "color": "black", "strokeWidth": 2.5},
   "encoding": {
    "x": {"field": "d", "type": "quantitative", "scale": {"domain": [-4.9, 219.9], "nice": false, "zero": false},
          "axis": {"orient": "bottom", "zindex": 2, "values": [10,30,50,70,90,110,130,150,170,190,210], "offset": -4, "tickSize": 4, "labels": false, "title": null}},
    "y": {"field": "n", "type": "quantitative", "scale": {"domain": [-0.105, 2.284], "nice": false, "zero": false},
          "axis": {"orient": "left", "zindex": 2, "values": [0.25,0.75,1.25,1.75,2.25], "offset": -4, "tickSize": 4, "labels": false, "title": null}}}},
  {"data": {"name": "num"}, "transform": [{"filter": "datum.s=='LNR91' && datum.d>=25 && datum.d<=76"}],
   "mark": {"type": "line", "color": "#c8c8c8", "strokeWidth": 1, "strokeDash": [2, 2]},
   "encoding": {
    "x": {"field": "d", "type": "quantitative", "scale": {"domain": [-4.9, 219.9], "nice": false, "zero": false},
          "axis": {"orient": "top", "zindex": 2, "values": [10,30,50,70,90,110,130,150,170,190,210], "offset": -4, "tickSize": 4, "labels": false, "title": null}},
    "y": {"field": "n", "type": "quantitative", "scale": {"domain": [-0.105, 2.284], "nice": false, "zero": false},
          "axis": {"orient": "right", "zindex": 2, "values": [0.25,0.75,1.25,1.75,2.25], "offset": -4, "tickSize": 4, "labels": false, "title": null}}}},
  {"data": {"name": "arrows"}, "transform": [{"filter": "datum.s=='LNR91'"}],
   "mark": {"type": "rule", "color": "black", "strokeWidth": 3.5},
   "encoding": {
    "x": {"field": "x1", "type": "quantitative", "scale": {"domain": [-4.9, 219.9], "nice": false, "zero": false}, "axis": null},
    "x2": {"field": "x2"},
    "y": {"field": "y", "type": "quantitative", "scale": {"domain": [-0.105, 2.284], "nice": false, "zero": false}, "axis": null}}},
  {"data": {"name": "arrows"}, "transform": [{"filter": "datum.s=='LNR91'"}],
   "mark": {"type": "point", "filled": true, "opacity": 1, "size": 150, "color": "black"},
   "encoding": {
    "x": {"field": "x1", "type": "quantitative", "scale": {"domain": [-4.9, 219.9], "nice": false, "zero": false}, "axis": null},
    "y": {"field": "y", "type": "quantitative", "scale": {"domain": [-0.105, 2.284], "nice": false, "zero": false}, "axis": null},
    "shape": {"field": "dir", "type": "nominal", "scale": {"domain": ["left", "right"], "range": ["triangle-left", "triangle-right"]}, "legend": null}}},
  {"data": {"name": "labels"}, "transform": [{"filter": "datum.s=='LNR91'"}],
   "mark": {"type": "text", "font": "Open Sans", "fontSize": 34, "color": "black"},
   "encoding": {
    "x": {"field": "x", "type": "quantitative", "scale": {"domain": [-4.9, 219.9], "nice": false, "zero": false}, "axis": null},
    "y": {"field": "y", "type": "quantitative", "scale": {"domain": [-0.105, 2.284], "nice": false, "zero": false}, "axis": null},
    "text": {"field": "t"}}}
 ],
 "resolve": {"axis": {"x": "independent", "y": "independent"}}
}
]
}
